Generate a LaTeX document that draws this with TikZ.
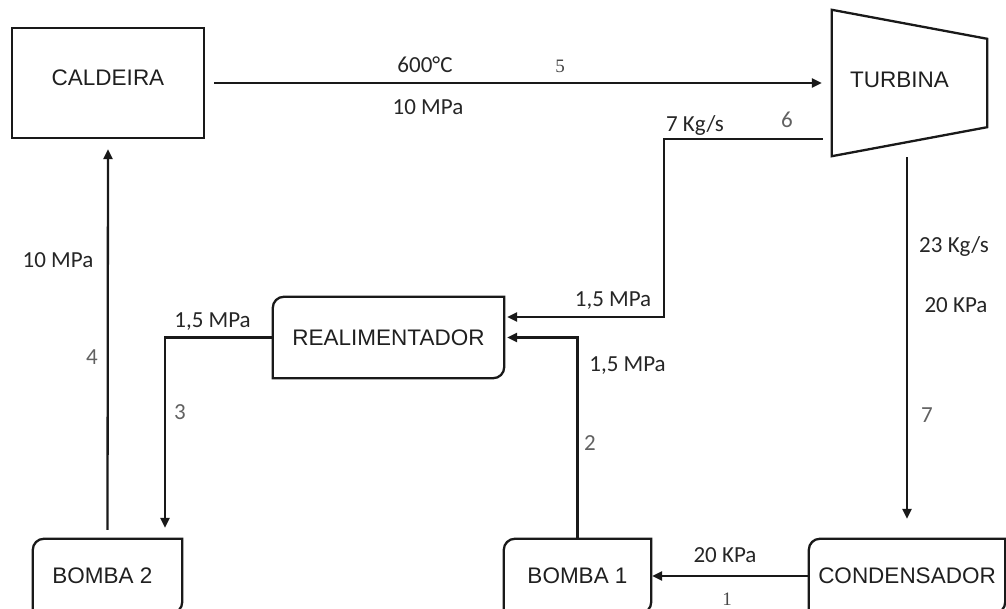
\documentclass[tikz,border=0pt]{standalone}
\usepackage{fontspec}
\setmainfont{Liberation Sans}
\newfontfamily\lblfont{Carlito}
\newfontfamily\numserif{Liberation Serif}
\usetikzlibrary{arrows.meta}
\begin{document}
\begin{tikzpicture}[x=1pt,y=-1pt,
  box/.style={draw=none, inner sep=0pt, font=\fontsize{22.5}{27}\selectfont, text=black!88},
  outline/.style={line width=2.3pt, black!90},
  arr/.style={line width=2.3pt, black!90, -{Triangle[length=10pt,width=9pt]}},
  lbl/.style={anchor=base, inner sep=0pt, font=\lblfont\fontsize{23}{27}\selectfont, text=black!85},
  num/.style={anchor=base, inner sep=0pt, font=\lblfont\fontsize{23}{27}\selectfont, text=black!62},
  snum/.style={anchor=base, inner sep=0pt, font=\numserif\fontsize{19}{23}\selectfont, text=black!72},
]
\useasboundingbox (0,0) rectangle (1006,609);
\clip (0,0) rectangle (1006,609);

% boxes
\node[box, minimum width=192pt, minimum height=110pt,
      label={[box, yshift=5pt]center:CALDEIRA}] (cald) at (108,83) {};
\draw[outline] (cald.north west) rectangle (cald.south east);

\node[box, minimum width=155pt, minimum height=146pt,
      label={[box, xshift=-10pt, yshift=3pt]center:TURBINA}] (turb) at (909.5,83) {};
\draw[outline] (turb.north west) -- ([yshift=-29pt]turb.north east)
  -- ([yshift=29pt]turb.south east) -- (turb.south west) -- cycle;

\node[box, minimum width=231pt, minimum height=81pt] (real) at (388.5,337.5) {REALIMENTADOR};
\node[box, minimum width=149pt, minimum height=74pt] (b2) at (107.5,576) {\hspace*{-10pt}BOMBA 2};
\node[box, minimum width=147pt, minimum height=74pt] (b1) at (577.5,576) {BOMBA 1};
\node[box, minimum width=196pt, minimum height=74pt] (cond) at (907,576) {CONDENSADOR};

\foreach \n in {real,b2,b1,cond}{
  \draw[outline] (\n.west) [rounded corners=11pt] |- (\n.north) [sharp corners] -| (\n.east)
    [rounded corners=11pt] |- (\n.south) [sharp corners] -| (\n.west) -- cycle;
}

% connectors
\draw[arr] ([xshift=10pt]cald.east) -- ([xshift=-10pt]turb.west);
\draw[arr] ([xshift=-9pt,yshift=17pt]turb.south west) -- ++(-159,0)
  |- ([xshift=3pt,yshift=20.5pt]real.east);
\draw[arr] (b1.north) |- ([xshift=3pt]real.east);
\draw[arr] (real.west) -| ([xshift=57.5pt,yshift=11pt]b2.north);
\draw[arr] ([yshift=9pt]b2.north) -- ([yshift=-11pt]cald.south);
\draw[arr] ([xshift=-2.5pt,yshift=-1pt]turb.south) -- ([yshift=20pt]cond.north);
\draw[arr] (cond.west) -- ([xshift=1pt]b1.east);

% labels
\node[lbl] (l600) at (425,73) {600°C};
\node[snum] (n5) at (560,73) {5};
\node[lbl] (l10a) at (428,115) {10 MPa};
\node[lbl] (l7kg) at (695,132) {7 Kg/s};
\node[num] (n6) at (787,128) {6};
\node[lbl] (l15a) at (613,307) {1,5 MPa};
\node[lbl] (l15b) at (627.5,371) {1,5 MPa};
\node[num] (n2) at (590,450) {2};
\node[lbl] (l23) at (954,253) {23 Kg/s};
\node[lbl] (l20a) at (956,313) {20 KPa};
\node[num] (n7) at (927,422) {7};
\node[lbl] (l10b) at (58,268) {10 MPa};
\node[num] (n4) at (92,364) {4};
\node[num] (n3) at (180,419) {3};
\node[lbl] (l15c) at (212.5,327) {1,5 MPa};
\node[lbl] (l20b) at (725,562) {20 KPa};
\node[snum] (n1) at (727,605) {1};
\end{tikzpicture}
\end{document}
